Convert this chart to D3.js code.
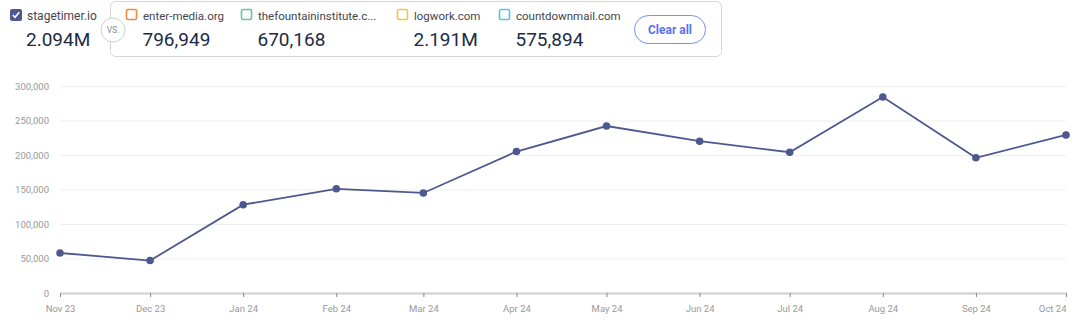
<!DOCTYPE html>
<html>
<head>
<meta charset="utf-8">
<script src="https://cdn.jsdelivr.net/npm/d3@7"></script>
<style>
  body { margin: 0; background: #fff; font-family: Roboto, "Noto Sans", sans-serif; }
</style>
</head>
<body>
<div id="chart"></div>
<script>
var months = ["2023-11-01","2023-12-01","2024-01-01","2024-02-01","2024-03-01","2024-04-01",
              "2024-05-01","2024-06-01","2024-07-01","2024-08-01","2024-09-01","2024-10-01"]
var visits = [58000, 47000, 128000, 151000, 145000, 205000, 242000, 220000, 204000, 284000, 196000, 229000]
var yTicks = [0, 50000, 100000, 150000, 200000, 250000, 300000]

var mainSite = {name: "stagetimer.io", total: "2.094M"}
var rivals = [
  {name: "enter-media.org", total: "796,949", color: "#f0883e", x: 126},
  {name: "thefountaininstitute.c...", total: "670,168", color: "#5ecb9a", x: 241},
  {name: "logwork.com", total: "2.191M", color: "#f5c242", x: 397},
  {name: "countdownmail.com", total: "575,894", color: "#56c3e3", x: 499}
]

var parse = d3.timeParse("%Y-%m-%d")
var data = months.map((m, i) => ({date: parse(m), value: visits[i]}))

var width = 1080, height = 322
var svg = d3.select("#chart").append("svg")
  .attr("width", width).attr("height", height)

// ---- header ----
var head = svg.append("g")

head.append("rect")
  .attr("x", 110.5).attr("y", 1.5).attr("width", 611).attr("height", 55)
  .attr("rx", 5).attr("fill", "#fff").attr("stroke", "#d6d6d6")

// main site checkbox
head.append("rect")
  .attr("x", 10).attr("y", 9).attr("width", 12).attr("height", 12).attr("rx", 2)
  .attr("fill", "#4e5890")
head.append("path")
  .attr("d", "M12.8,15 L15,17.3 L19.3,12.3")
  .attr("fill", "none").attr("stroke", "#fff").attr("stroke-width", 1.6)
head.append("text").attr("x", 27).attr("y", 19.5)
  .attr("font-size", 12).attr("fill", "#45454d").text(mainSite.name)
head.append("text").attr("x", 26).attr("y", 46)
  .attr("font-size", 19).attr("fill", "#1d2b45").text(mainSite.total)

// vs badge
head.append("circle").attr("cx", 113).attr("cy", 30).attr("r", 12)
  .attr("fill", "#fff").attr("stroke", "#d0d0d0")
head.append("text").attr("x", 113).attr("y", 33).attr("text-anchor", "middle")
  .attr("font-size", 8.5).attr("fill", "#8a8a8a").text("VS.")

var rv = head.selectAll(".rival").data(rivals).enter().append("g")
  .attr("transform", d => "translate(" + d.x + ",0)")
rv.append("rect").attr("x", 0.5).attr("y", 9.5).attr("width", 10).attr("height", 10).attr("rx", 1.5)
  .attr("fill", "#fff").attr("stroke", d => d.color).attr("stroke-width", 1.6)
rv.append("text").attr("x", 17).attr("y", 19.5)
  .attr("font-size", 11.5).attr("fill", "#45454d").text(d => d.name)
rv.append("text").attr("x", 16.5).attr("y", 46)
  .attr("font-size", 19).attr("fill", "#1d2b45").text(d => d.total)

// clear all button
head.append("rect").attr("x", 634.5).attr("y", 15.5).attr("width", 71).attr("height", 28).attr("rx", 14)
  .attr("fill", "#fff").attr("stroke", "#7b8ff5")
head.append("text").attr("x", 670).attr("y", 34).attr("text-anchor", "middle")
  .attr("font-size", 12).attr("font-weight", "bold").attr("fill", "#5b72e8").text("Clear all")

// ---- chart ----
var x = d3.scaleTime()
  .domain([data[0].date, data[data.length - 1].date])
  .range([60, 1066])
var y = d3.scaleLinear().domain([0, 300000]).range([293, 86])

svg.append("g").selectAll("line").data(yTicks.slice(1)).enter().append("line")
  .attr("x1", 60).attr("x2", 1066)
  .attr("y1", d => y(d) + 0.5).attr("y2", d => y(d) + 0.5)
  .attr("stroke", "#efefef")

svg.append("g").selectAll("text").data(yTicks).enter().append("text")
  .attr("x", 49).attr("y", d => y(d) + 3.5).attr("text-anchor", "end")
  .attr("font-size", 9.5).attr("fill", "#999").text(d => d3.format(",")(d))

var xAxis = svg.append("g").attr("transform", "translate(0,293)")
  .call(d3.axisBottom(x).tickValues(data.map(d => d.date)).tickSize(4).tickSizeOuter(0)
    .tickFormat(d3.timeFormat("%b %y")))
xAxis.select(".domain").attr("stroke", "#cfcfcf").attr("stroke-width", 2)
xAxis.selectAll(".tick line").attr("stroke", "#888")
xAxis.selectAll(".tick text")
  .attr("font-family", "Roboto, sans-serif").attr("font-size", 9.5).attr("fill", "#999").attr("dy", "1.25em")
xAxis.selectAll(".tick text").filter((d, i, n) => i === n.length - 1).attr("text-anchor", "end")

var line = d3.line().x(d => x(d.date)).y(d => y(d.value))
svg.append("path").datum(data).attr("d", line)
  .attr("fill", "none").attr("stroke", "#4e5890").attr("stroke-width", 1.8)

svg.append("g").selectAll("circle").data(data).enter().append("circle")
  .attr("cx", d => x(d.date)).attr("cy", d => y(d.value)).attr("r", 3.8)
  .attr("fill", "#4e5890")
</script>
</body>
</html>
